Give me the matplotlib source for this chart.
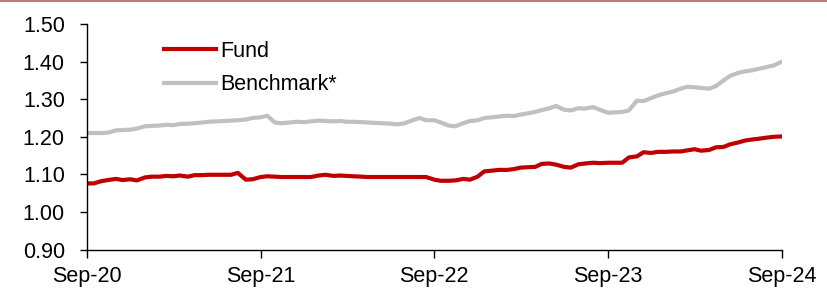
import matplotlib
matplotlib.use("Agg")
import matplotlib.pyplot as plt
import matplotlib.dates as mdates
from matplotlib.lines import Line2D
import pandas as pd

plt.rcParams['font.family'] = ['Liberation Sans', 'DejaVu Sans']

dates = pd.date_range("2020-09-01", "2024-09-01", freq="SMS")

benchmark = [
    1.210, 1.210, 1.210, 1.211, 1.217, 1.218, 1.219, 1.222, 1.228, 1.229,
    1.230, 1.232, 1.231, 1.234, 1.235, 1.236, 1.238, 1.240, 1.241, 1.242,
    1.243, 1.244, 1.246, 1.250, 1.252, 1.256, 1.238, 1.236, 1.238, 1.240,
    1.239, 1.241, 1.243, 1.242, 1.241, 1.242, 1.240, 1.240, 1.239, 1.238,
    1.237, 1.236, 1.235, 1.233, 1.236, 1.243, 1.250, 1.244, 1.244, 1.238,
    1.230, 1.228, 1.236, 1.242, 1.244, 1.250, 1.252, 1.254, 1.256, 1.255,
    1.259, 1.262, 1.266, 1.271, 1.276, 1.282, 1.272, 1.270, 1.276, 1.275,
    1.279, 1.272, 1.264, 1.265, 1.266, 1.270, 1.296, 1.295, 1.303, 1.310,
    1.316, 1.320, 1.328, 1.333, 1.332, 1.330, 1.328, 1.335, 1.350, 1.362,
    1.370, 1.374, 1.377, 1.381, 1.386, 1.390, 1.400,
]

fund = [
    1.076, 1.076, 1.082, 1.085, 1.088, 1.085, 1.087, 1.084, 1.092, 1.094,
    1.094, 1.096, 1.095, 1.097, 1.094, 1.098, 1.098, 1.099, 1.099, 1.099,
    1.099, 1.104, 1.086, 1.087, 1.093, 1.095, 1.094, 1.093, 1.093, 1.093,
    1.093, 1.093, 1.097, 1.099, 1.096, 1.097, 1.096, 1.095, 1.094, 1.093,
    1.093, 1.093, 1.093, 1.093, 1.093, 1.093, 1.093, 1.093, 1.086, 1.083,
    1.083, 1.084, 1.088, 1.086, 1.094, 1.108, 1.110, 1.112, 1.112, 1.114,
    1.118, 1.119, 1.120, 1.128, 1.129, 1.126, 1.120, 1.118, 1.127, 1.129,
    1.131, 1.130, 1.131, 1.131, 1.131, 1.145, 1.148, 1.159, 1.157, 1.160,
    1.160, 1.161, 1.161, 1.164, 1.167, 1.163, 1.165, 1.172, 1.173, 1.180,
    1.185, 1.190, 1.193, 1.195, 1.198, 1.200, 1.201,
]

y_ticks = [0.90, 1.00, 1.10, 1.20, 1.30, 1.40, 1.50]
x_ticks = ["2020-09-01", "2021-09-01", "2022-09-01", "2023-09-01", "2024-09-01"]

FS = 15.5

fig = plt.figure(figsize=(8.27, 2.94), dpi=100)
ax = fig.add_axes([87 / 827, 1 - 249.6 / 294, (782 - 87) / 827, (249.6 - 24) / 294])

ax.plot(dates, fund, color="#C00000", lw=3.0, label="Fund", solid_joinstyle="round")
ax.plot(dates, benchmark, color="#C0C0C0", lw=3.0, label="Benchmark*", solid_joinstyle="round")

ax.set_ylim(0.90, 1.50)
ax.set_yticks(y_ticks)
ax.set_yticklabels([f"{v:.2f}" for v in y_ticks])
ax.set_xlim(pd.Timestamp(x_ticks[0]), pd.Timestamp(x_ticks[-1]))
ax.set_xticks([pd.Timestamp(t) for t in x_ticks])
ax.xaxis.set_major_formatter(mdates.DateFormatter("%b-%y"))

for s in ["top", "right"]:
    ax.spines[s].set_visible(False)
for s in ["left", "bottom"]:
    ax.spines[s].set_linewidth(1.0)
    ax.spines[s].set_color("black")

ax.tick_params(axis="both", direction="out", width=1.0, labelsize=FS, colors="black")
ax.tick_params(axis="x", length=5.5, pad=6)
ax.tick_params(axis="y", length=5.0, pad=11)

leg = ax.legend(loc="upper left", bbox_to_anchor=(0.099, 0.965), frameon=False,
                fontsize=FS, handlelength=2.4, handletextpad=0.2, labelspacing=0.6,
                borderaxespad=0.0)

fig.add_artist(Line2D([0, 1], [0.997, 0.997], transform=fig.transFigure,
                      color="#C87878", lw=1.5))

fig.savefig("out.png", dpi=100)
